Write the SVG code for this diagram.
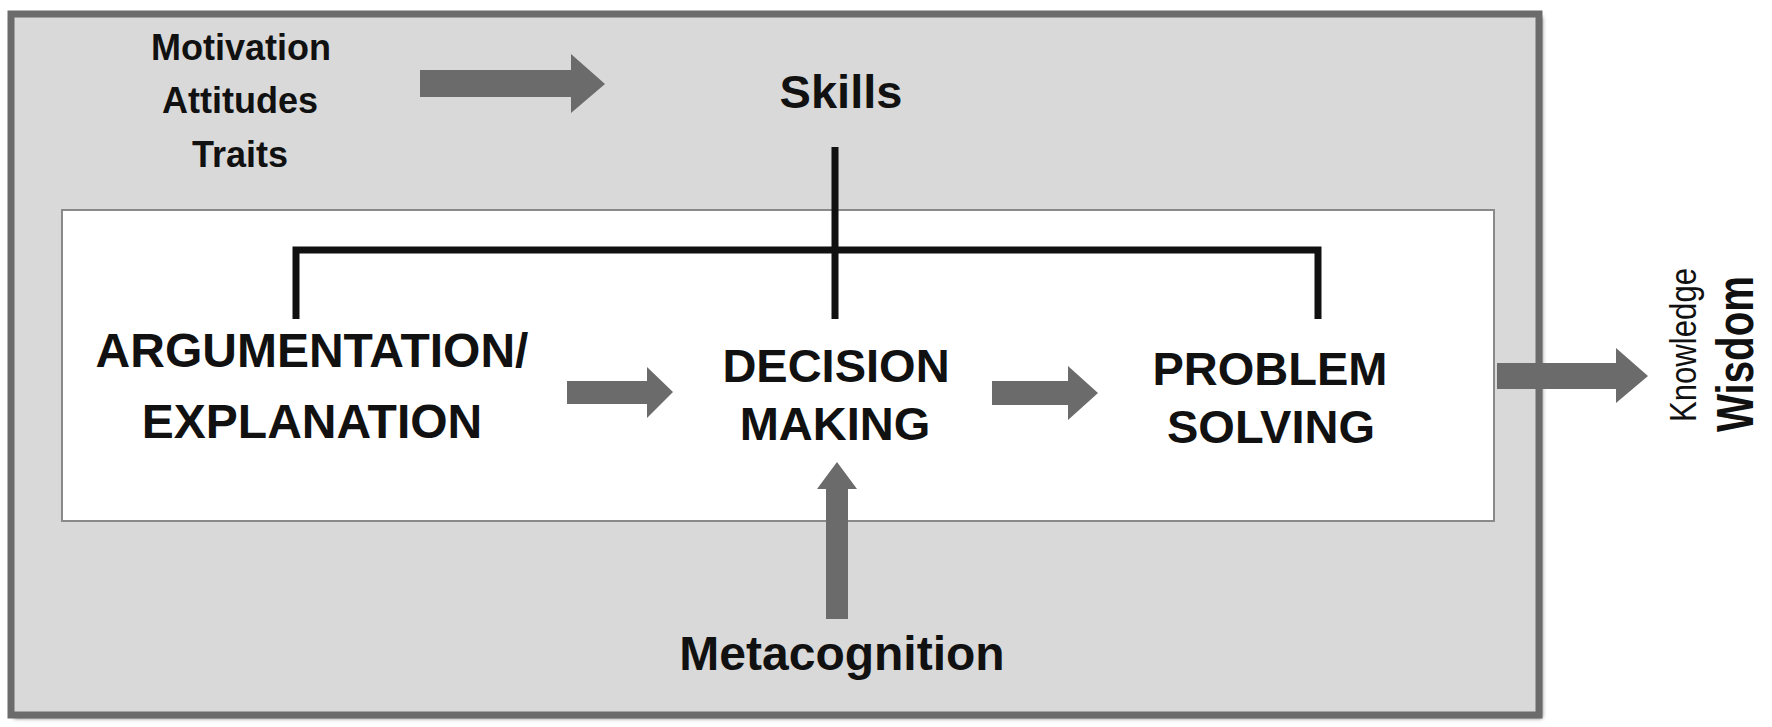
<svg xmlns="http://www.w3.org/2000/svg" width="1772" height="727" viewBox="0 0 1772 727">
<defs>
<filter id="sh" x="-5%" y="-5%" width="110%" height="110%"><feGaussianBlur stdDeviation="2"/></filter>
<style>
.t{font-family:"Liberation Sans",Arial,sans-serif;font-weight:bold;fill:#111;text-anchor:middle}
.c{dominant-baseline:central}
.ar{fill:#6b6b6b}
.ln{stroke:#111;stroke-width:7;fill:none}
</style>
</defs>
<rect x="14" y="17" width="1528" height="701" fill="#555" filter="url(#sh)"/>
<rect x="11" y="14" width="1528" height="701" fill="#d9d9d9" stroke="#6b6b6b" stroke-width="7"/>
<rect x="62" y="210" width="1432" height="311" fill="#fff" stroke="#8a8a8a" stroke-width="2"/>
<g id="connectors">
<path class="ln" d="M835 147V319M296 319V250H1318V319"/>
<polygon class="ar" points="420,70 571,70 571,54 605,84 571,113 571,97 420,97"/>
<polygon class="ar" points="567,381 647,381 647,367 673,392 647,418 647,404 567,404"/>
<polygon class="ar" points="992,381 1068,381 1068,366 1098,393 1068,420 1068,405 992,405"/>
<polygon class="ar" points="1497,363 1616,363 1616,348 1648,376 1616,403 1616,389 1497,389"/>
<polygon class="ar" points="826,619 826,489 817,489 837,462 857,489 848,489 848,619"/>
</g>
<g id="inputs"><text class="t" font-size="36" x="241" y="60">Motivation</text><text class="t" font-size="36" x="240" y="113">Attitudes</text><text class="t" font-size="36" x="240" y="167">Traits</text></g>
<g id="skills"><text class="t" font-size="47" x="841" y="108">Skills</text></g>
<g id="argumentation"><text class="t" font-size="48" x="312" y="367">ARGUMENTATION/</text><text class="t" font-size="48" x="312" y="438">EXPLANATION</text></g>
<g id="decision"><text class="t" font-size="47" x="836" y="382">DECISION</text><text class="t" font-size="47" x="835" y="440">MAKING</text></g>
<g id="problem"><text class="t" font-size="47" x="1270" y="385">PROBLEM</text><text class="t" font-size="47" x="1271" y="443">SOLVING</text></g>
<g id="metacognition"><text class="t" font-size="48" x="842" y="670">Metacognition</text></g>
<g id="outcome"><text class="t c" font-size="36" style="font-weight:normal" textLength="154" lengthAdjust="spacingAndGlyphs" transform="translate(1683,345) rotate(-90)">Knowledge</text><text class="t c" font-size="52" textLength="156" lengthAdjust="spacingAndGlyphs" transform="translate(1735,354) rotate(-90)">Wisdom</text></g>
</svg>
